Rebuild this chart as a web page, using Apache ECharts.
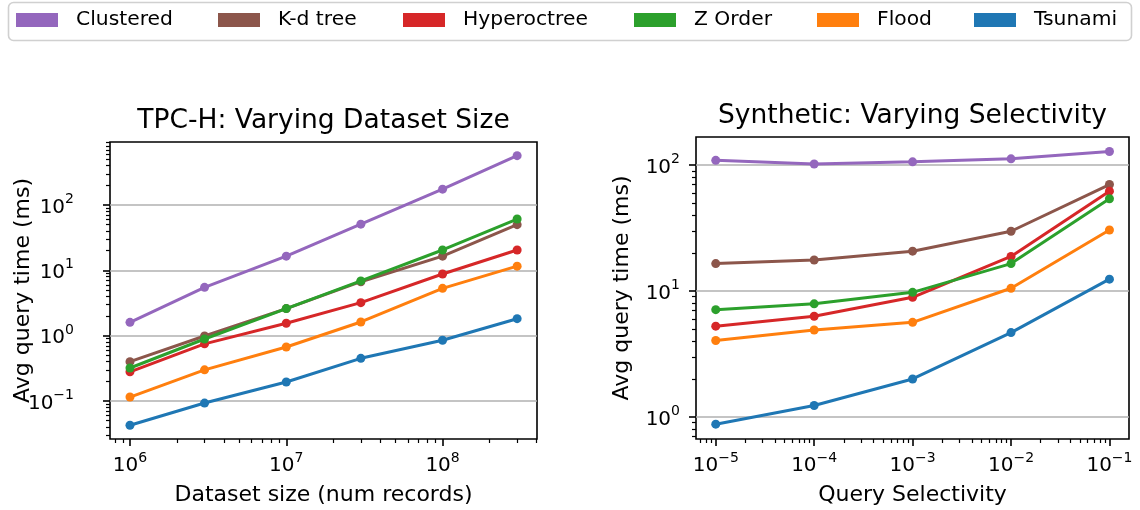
<!DOCTYPE html>
<html><head><meta charset="utf-8">
<script src="https://cdn.jsdelivr.net/npm/echarts@6/dist/echarts.min.js"></script>
<style>html,body{margin:0;padding:0;background:#fff}#c{width:1140px;height:510px}</style>
</head><body><div id="c"></div>
<script>
// ---- data ----
const seriesNames = ['Clustered', 'K-d tree', 'Hyperoctree', 'Z Order', 'Flood', 'Tsunami'];
const seriesColors = ['#9467bd', '#8c564b', '#d62728', '#2ca02c', '#ff7f0e', '#1f77b4'];

const datasetSizes = [1e6, 3e6, 1e7, 3e7, 1e8, 3e8];
const tpchClustered = [1.6, 5.5, 16.5, 51, 175, 570];
const tpchKdTree = [0.40, 0.99, 2.6, 6.7, 16.5, 50];
const tpchHyperoctree = [0.28, 0.75, 1.55, 3.2, 8.8, 20.5];
const tpchZOrder = [0.32, 0.89, 2.6, 6.9, 20.5, 61];
const tpchFlood = [0.115, 0.30, 0.67, 1.62, 5.3, 11.6];
const tpchTsunami = [0.0425, 0.093, 0.195, 0.45, 0.85, 1.82];

const selectivities = [1e-5, 1e-4, 1e-3, 1e-2, 1e-1];
const synClustered = [109, 102, 106, 112, 128];
const synKdTree = [16.5, 17.6, 20.7, 29.8, 70];
const synHyperoctree = [5.25, 6.3, 8.9, 18.8, 62];
const synZOrder = [7.1, 7.9, 9.75, 16.5, 54];
const synFlood = [4.04, 4.9, 5.63, 10.5, 30.5];
const synTsunami = [0.875, 1.23, 2.0, 4.67, 12.4];

const leftXTicks = [1e6, 1e7, 1e8];
const leftYTicks = [0.1, 1, 10, 100];
const rightXTicks = [1e-5, 1e-4, 1e-3, 1e-2, 1e-1];
const rightYTicks = [1, 10, 100];

const titles = ['TPC-H: Varying Dataset Size', 'Synthetic: Varying Selectivity'];
const xNames = ['Dataset size (num records)', 'Query Selectivity'];
const yName = 'Avg query time (ms)';

// ---- helpers ----
const FONT = '"DejaVu Sans", "Liberation Sans", sans-serif';
function minorTicks(min, max) {
  const out = [];
  for (let e = Math.floor(Math.log10(min)); e <= Math.ceil(Math.log10(max)); e++) {
    for (let m = 2; m <= 9; m++) {
      const v = m * Math.pow(10, e);
      if (v > min && v < max) out.push(v);
    }
  }
  return out;
}
function powLabel(v) {
  const e = Math.round(Math.log10(v));
  return '{b|10}{s|' + (e < 0 ? '\u2212' + (-e) : String(e)) + '}';
}
const rich = {
  b: { fontSize: 20, fontFamily: FONT, color: '#000', lineHeight: 25, verticalAlign: 'bottom' },
  s: { fontSize: 14, fontFamily: FONT, color: '#000', lineHeight: 14, verticalAlign: 'top' }
};
function majorAxis(gridIndex, min, max, ticks, isY, name, nameGap, margin) {
  return {
    gridIndex, type: 'log', logBase: 10, min, max,
    position: isY ? 'left' : 'bottom',
    axisLine: { show: false },
    axisTick: { show: true, customValues: ticks, length: 7, lineStyle: { color: '#000', width: 1.6 } },
    axisLabel: { show: true, customValues: ticks, formatter: powLabel, rich, margin },
    splitLine: isY ? { show: true, lineStyle: { color: '#b0b0b0', width: 1.6 } } : { show: false },
    name, nameLocation: 'middle', nameGap, nameMoveOverlap: false,
    nameTextStyle: { fontSize: 22, fontFamily: FONT, color: '#000' }
  };
}
function minorAxis(gridIndex, min, max, isY) {
  return {
    gridIndex, type: 'log', logBase: 10, min, max,
    position: isY ? 'left' : 'bottom',
    axisLine: { show: false },
    axisTick: { show: true, customValues: minorTicks(min, max), length: 4, lineStyle: { color: '#000', width: 1.2 } },
    axisLabel: { show: false },
    splitLine: { show: false }
  };
}

const L = { xmin: 7.45e5, xmax: 4.02e8, ymin: 0.0262, ymax: 922 };
const R = { xmin: 6.3e-6, xmax: 0.158, ymin: 0.667, ymax: 167 };

const tpchSeries = [tpchClustered, tpchKdTree, tpchHyperoctree, tpchZOrder, tpchFlood, tpchTsunami];
const synSeries = [synClustered, synKdTree, synHyperoctree, synZOrder, synFlood, synTsunami];

const series = [];
seriesNames.forEach((nm, i) => {
  const base = {
    name: nm, type: 'line', symbol: 'circle', symbolSize: 9, showSymbol: true,
    lineStyle: { color: seriesColors[i], width: 3 },
    itemStyle: { color: seriesColors[i] },
    emphasis: { disabled: true }, z: 3 + i
  };
  series.push(Object.assign({}, base, {
    xAxisIndex: 0, yAxisIndex: 0,
    data: datasetSizes.map((x, j) => [x, tpchSeries[i][j]])
  }));
  series.push(Object.assign({}, base, {
    xAxisIndex: 2, yAxisIndex: 2,
    data: selectivities.map((x, j) => [x, synSeries[i][j]])
  }));
});

const legendLefts = [16, 218, 403, 634, 817, 974];
const legends = seriesNames.map((nm, i) => ({
  data: [nm], left: legendLefts[i], top: 10, padding: 0,
  icon: 'rect', itemWidth: 42, itemHeight: 14,
  textStyle: { fontSize: 20.3, fontFamily: FONT, color: '#000', padding: [0, 0, 0, 13] },
  selectedMode: false
}));

const option = {
  animation: false,
  backgroundColor: '#fff',
  legend: legends,
  grid: [
    { left: 110, top: 142, width: 427, height: 297, show: true, borderColor: '#000', borderWidth: 1.6, backgroundColor: 'transparent', containLabel: false, outerBoundsMode: 'none' },
    { left: 696, top: 137, width: 433, height: 302, show: true, borderColor: '#000', borderWidth: 1.6, backgroundColor: 'transparent', containLabel: false, outerBoundsMode: 'none' }
  ],
  xAxis: [
    majorAxis(0, L.xmin, L.xmax, leftXTicks, false, xNames[0], 45, 12),
    minorAxis(0, L.xmin, L.xmax, false),
    majorAxis(1, R.xmin, R.xmax, rightXTicks, false, xNames[1], 45, 12),
    minorAxis(1, R.xmin, R.xmax, false)
  ],
  yAxis: [
    majorAxis(0, L.ymin, L.ymax, leftYTicks, true, yName, 76, 36),
    minorAxis(0, L.ymin, L.ymax, true),
    majorAxis(1, R.ymin, R.ymax, rightYTicks, true, yName, 63, 16),
    minorAxis(1, R.ymin, R.ymax, true)
  ],
  graphic: [
    { type: 'rect', z: -10, silent: true, shape: { x: 8.5, y: 2.5, width: 1123, height: 38, r: 5 }, style: { fill: '#fff', stroke: '#d0d0d0', lineWidth: 1.6 } },
    { type: 'text', silent: true, x: 323.5, y: 121, style: { text: titles[0], font: '26.5px ' + FONT, fill: '#000', textAlign: 'center', textVerticalAlign: 'middle' } },
    { type: 'text', silent: true, x: 912.5, y: 116, style: { text: titles[1], font: '26.5px ' + FONT, fill: '#000', textAlign: 'center', textVerticalAlign: 'middle' } }
  ],
  series
};
const chart = echarts.init(document.getElementById('c'), null, { renderer: 'canvas' });
chart.setOption(option);
</script>
</body></html>
